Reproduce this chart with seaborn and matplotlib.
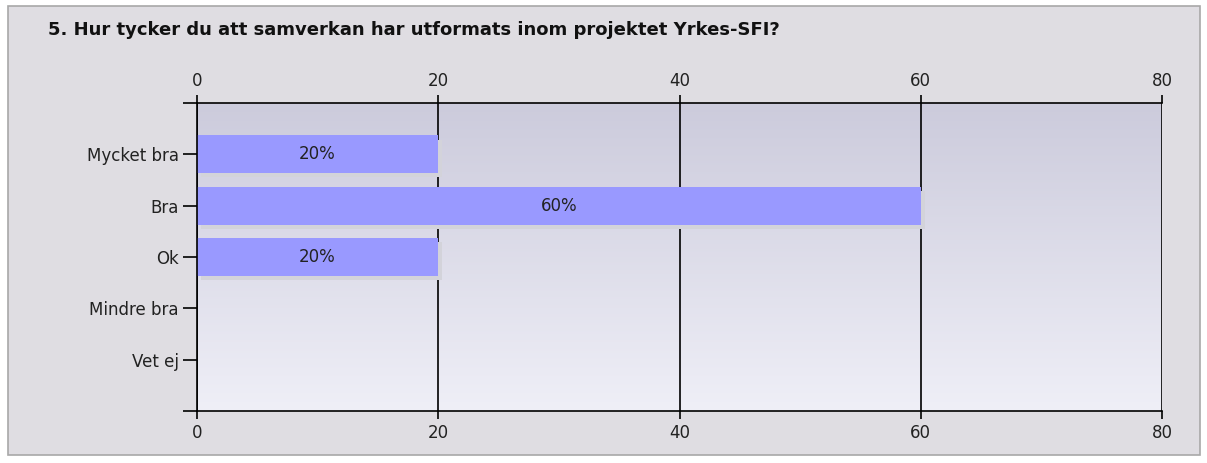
import numpy as np
import pandas as pd
import matplotlib
matplotlib.use("Agg")
import matplotlib.pyplot as plt
import matplotlib.patheffects as pe
from matplotlib.patches import Rectangle
from matplotlib.colors import LinearSegmentedColormap
import seaborn as sns

title = "5. Hur tycker du att samverkan har utformats inom projektet Yrkes-SFI?"
categories = ["Mycket bra", "Bra", "Ok", "Mindre bra", "Vet ej"]
values = [20, 60, 20, 0, 0]
labels = ["20%", "60%", "20%", "", ""]
xticks = [0, 20, 40, 60, 80]

sns.set_theme(style="white")
plt.rcParams['font.family'] = ['DejaVu Sans']

W, H = 1207, 463
fig = plt.figure(figsize=(W / 100, H / 100), dpi=100)
fig.patch.set_facecolor("white")
fig.patches.append(Rectangle((8 / W, 1 - 455 / H), (1200 - 8) / W, (455 - 6) / H,
                             transform=fig.transFigure, facecolor="#dfdde2",
                             edgecolor="#a8a8a8", linewidth=1.2, zorder=-10))

ax = fig.add_axes([197 / W, 1 - 411 / H, (1162 - 197) / W, (411 - 103) / H])
ax.set_facecolor("none")

# gradient background
grad = np.linspace(0, 1, 256).reshape(-1, 1)
cmap = LinearSegmentedColormap.from_list("bg", ["#cccbdc", "#efeff7"])
ax.imshow(grad, cmap=cmap, aspect="auto", extent=[0, 1, 0, 1],
          transform=ax.transAxes, zorder=0, origin="upper")

df = pd.DataFrame({"cat": categories, "val": values})
sns.barplot(data=df, x="val", y="cat", color="#9999ff", saturation=1,
            width=0.74, ax=ax, zorder=3)
for p in ax.patches:
    p.set_path_effects([pe.SimplePatchShadow(offset=(3, -3), shadow_rgbFace="#d3d3da", alpha=1.0),
                        pe.Normal()])
    p.set_edgecolor("none")

for i, (v, lab) in enumerate(zip(values, labels)):
    if lab:
        ax.text(v / 2, i, lab, ha="center", va="center", fontsize=12, color="#222222", zorder=5)

ax.set_xlim(0, 80)
ax.set_ylim(5, -1)
ax.set_xticks(xticks)
ax.set_xticklabels([str(t) for t in xticks])
ax.set_yticks([-1, 5], minor=True)
ax.tick_params(axis="y", which="minor", length=10, width=1.2, color="black", left=True)
ax.tick_params(axis="y", which="major", length=10, width=1.2, color="black", left=True,
               labelsize=12, labelcolor="#222222", pad=3)
ax.tick_params(axis="x", which="major", length=5.5, width=1.2, color="black",
               top=True, bottom=True, labeltop=True, labelbottom=True,
               labelsize=12, labelcolor="#222222", pad=4)
ax.set_xlabel("")
ax.set_ylabel("")
for x in xticks:
    ax.axvline(x, color="black", linewidth=1.2, zorder=2)
for s in ["top", "bottom", "left"]:
    ax.spines[s].set_visible(True)
    ax.spines[s].set_color("black")
    ax.spines[s].set_linewidth(1.2)
ax.spines["right"].set_visible(False)
for s in ax.spines.values():
    s.set_zorder(6)

fig.text(48 / W, 1 - 30 / H, title, fontsize=13, fontweight="bold", color="#111111",
         ha="left", va="center")

fig.savefig("out.png", dpi=100, facecolor="white")
